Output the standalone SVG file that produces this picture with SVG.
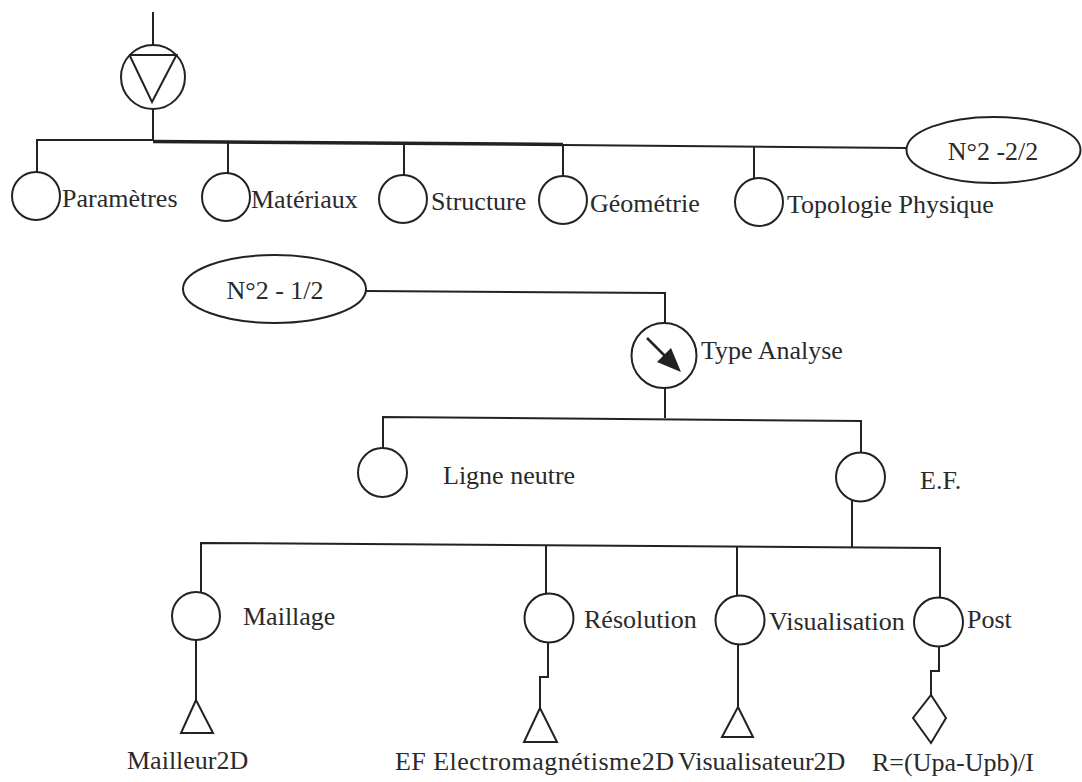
<svg xmlns="http://www.w3.org/2000/svg" width="1082" height="782" viewBox="0 0 1082 782">
<style>
.ln{fill:none;stroke:#222;stroke-width:2}
.nd{fill:#fff;stroke:#222;stroke-width:2}
.tx{font-family:"Liberation Serif","Times New Roman",serif;font-size:26px;fill:#2a2a2a}
</style>
<rect width="1082" height="782" fill="#fff"/>
<g id="connectors">
<line class="ln" x1="153" y1="12" x2="153" y2="45"/>
<line class="ln" x1="153" y1="109" x2="153" y2="141"/>
<polyline class="ln" points="37,172 37,140 153,140"/>
<line x1="153" y1="141.5" x2="563" y2="144.5" stroke="#222" stroke-width="3.5"/>
<line class="ln" x1="563" y1="145" x2="906" y2="148"/>
<line class="ln" x1="228" y1="142" x2="228" y2="173"/>
<line class="ln" x1="404" y1="143" x2="404" y2="175"/>
<line class="ln" x1="563" y1="144" x2="563" y2="176"/>
<line class="ln" x1="754" y1="147" x2="754" y2="178"/>
<polyline class="ln" points="366,291 665,293 665,323"/>
<line class="ln" x1="665" y1="388" x2="665" y2="418"/>
<polyline class="ln" points="383,448 383,417 861,421 861,453"/>
<polyline class="ln" points="852,501 852,548"/>
<polyline class="ln" points="201,592 201,543 940,548 940,598"/>
<line class="ln" x1="546" y1="545" x2="546" y2="594"/>
<line class="ln" x1="737" y1="546" x2="737" y2="596"/>
<line class="ln" x1="196" y1="640" x2="196" y2="700"/>
<polyline class="ln" points="548,643 548,677 540,677 540,708"/>
<line class="ln" x1="738" y1="644" x2="738" y2="707"/>
<polyline class="ln" points="939,646 939,671 931,671 931,695"/>
</g>
<g id="root">
<circle class="nd" cx="153" cy="77" r="32"/>
<polyline class="ln" points="129.5,55 176.5,55 152,102 129.5,55"/>
</g>
<g id="n-parametres"><circle class="nd" cx="36" cy="196" r="24"/><text class="tx" x="62" y="207">Paramètres</text></g>
<g id="n-materiaux"><circle class="nd" cx="226" cy="197" r="24"/><text class="tx" x="251" y="208">Matériaux</text></g>
<g id="n-structure"><circle class="nd" cx="403" cy="199" r="24"/><text class="tx" x="431" y="210">Structure</text></g>
<g id="n-geometrie"><circle class="nd" cx="563" cy="200" r="24"/><text class="tx" x="590" y="212">Géométrie</text></g>
<g id="n-topologie"><circle class="nd" cx="759" cy="202" r="24"/><text class="tx" x="787" y="213">Topologie Physique</text></g>
<g id="n-ref22"><ellipse class="nd" cx="993.5" cy="150" rx="87" ry="33"/><text class="tx" x="993" y="160" text-anchor="middle">N°2 -2/2</text></g>
<g id="n-ref12"><ellipse class="nd" cx="274.5" cy="289" rx="91.5" ry="34"/><text class="tx" x="275" y="299" text-anchor="middle">N°2 - 1/2</text></g>
<g id="n-type">
<circle class="nd" cx="664" cy="355.5" r="32.5"/>
<line x1="647" y1="338" x2="666" y2="357" stroke="#222" stroke-width="2.5"/>
<polygon points="681,372 657,362 671,348" fill="#222"/>
<text class="tx" x="701" y="359">Type Analyse</text>
</g>
<g id="n-ligne"><circle class="nd" cx="382.5" cy="472.5" r="24.5"/><text class="tx" x="443" y="484">Ligne neutre</text></g>
<g id="n-ef"><circle class="nd" cx="860.5" cy="477" r="24.5"/><text class="tx" x="920" y="489">E.F.</text></g>
<g id="n-maillage"><circle class="nd" cx="196" cy="616" r="24"/><text class="tx" x="243" y="625">Maillage</text></g>
<g id="n-resolution"><circle class="nd" cx="549" cy="618" r="24.5"/><text class="tx" x="584" y="628">Résolution</text></g>
<g id="n-visualisation"><circle class="nd" cx="740" cy="620" r="24.5"/><text class="tx" x="769" y="630">Visualisation</text></g>
<g id="n-post"><circle class="nd" cx="938.5" cy="622" r="24.5"/><text class="tx" x="967" y="628">Post</text></g>
<g id="n-mailleur"><polygon class="nd" points="196,700 181,733 213,733"/><text class="tx" x="127" y="769">Mailleur2D</text></g>
<g id="n-efem"><polygon class="nd" points="540,708 524,742 557,742"/><text class="tx" x="395" y="770" textLength="279" lengthAdjust="spacing">EF Electromagnétisme2D</text></g>
<g id="n-visu2d"><polygon class="nd" points="738,707 722,737 753,737"/><text class="tx" x="678" y="770">Visualisateur2D</text></g>
<g id="n-r"><polygon class="nd" points="931,695 946,718 931,743 913,718"/><text class="tx" x="872" y="771">R=(Upa-Upb)/I</text></g>
</svg>
